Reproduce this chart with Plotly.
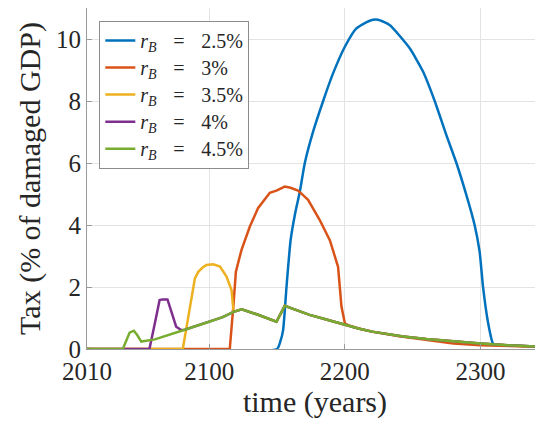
import plotly.graph_objects as go

# ---- data ----
green_years = [2010, 2036.4, 2041.4, 2044.5, 2047, 2050, 2060, 2070, 2082, 2100, 2110, 2118, 2124,
               2137, 2149.6, 2155.7, 2165, 2174, 2185, 2200, 2210, 2220, 2230, 2243, 2260, 2280,
               2300, 2320, 2346]
green_vals = [0, 0, 0.53, 0.59, 0.45, 0.24, 0.31, 0.46, 0.62, 0.88, 1.03, 1.2, 1.28,
              1.09, 0.88, 1.39, 1.24, 1.1, 0.97, 0.77, 0.66, 0.56, 0.48, 0.40, 0.32, 0.24,
              0.18, 0.12, 0.07]

purple_years = [2010, 2056, 2060, 2063.5, 2065.6, 2069.3, 2075.7, 2079.4, 2082]
purple_vals = [0, 0, 0.83, 1.58, 1.6, 1.6, 0.72, 0.61, 0.62]

yellow_years = [2010, 2080.6, 2089.5, 2092, 2095, 2098, 2103, 2108, 2112.8, 2116.5, 2118]
yellow_vals = [0, 0, 2.28, 2.49, 2.62, 2.71, 2.73, 2.66, 2.34, 1.9, 1.2]

orange_years = [2010, 2115.2, 2118, 2119.7, 2123.8, 2130, 2136, 2144.7, 2149.6, 2155.7, 2160,
                2165.5, 2169, 2172.9, 2181.5, 2189, 2195, 2197.5, 2200, 2203.6, 2210, 2220,
                2240, 2260, 2280, 2300, 2320, 2346]
orange_vals = [0, 0, 1.47, 2.49, 3.19, 3.95, 4.54, 5.04, 5.11, 5.24, 5.2,
               5.11, 4.97, 4.81, 4.16, 3.5, 2.65, 1.37, 0.83, 0.75, 0.66, 0.56,
               0.41, 0.29, 0.18, 0.12, 0.10, 0.07]

blue_years = [2010, 2150, 2152.5, 2154.5, 2157, 2160, 2163.5, 2166.8, 2170.5, 2176.6, 2184,
              2191.3, 2200, 2208.5, 2218.3, 2224.4, 2233, 2247.8, 2257.6, 2266.2, 2274.8,
              2282.2, 2289.5, 2295.6, 2299.3, 2301.8, 2305.4, 2309.1, 2310, 2320, 2346]
blue_vals = [0, 0, 0.25, 0.61, 2.0, 3.5, 4.4, 5.07, 6.0, 7.01, 8.0,
             8.89, 9.75, 10.34, 10.59, 10.62, 10.45, 9.7, 8.95, 8.0, 6.9,
             6.0, 4.97, 4.0, 3.14, 2.01, 0.88, 0.18, 0.15, 0.12, 0.07]

rates = ["2.5%", "3%", "3.5%", "4%", "4.5%"]
x_ticks = [2010, 2100, 2200, 2300]
y_ticks = [0, 2, 4, 6, 8, 10]

# purple and yellow continue along the green tail after merging
def tail_after(x0):
    return ([x for x in green_years if x > x0], [v for x, v in zip(green_years, green_vals) if x > x0])

py_t, pv_t = tail_after(purple_years[-1])
yy_t, yv_t = tail_after(yellow_years[-1])

xs_list = [blue_years, orange_years, yellow_years + yy_t, purple_years + py_t, green_years]
ys_list = [blue_vals, orange_vals, yellow_vals + yv_t, purple_vals + pv_t, green_vals]
colors = ["#0072BD", "#D95319", "#EDB120", "#7E2F8E", "#77AC30"]
shapes = ["spline", "linear", "linear", "linear", "linear"]

FONT = "Liberation Serif, Times New Roman, serif"
SP = "\u2002\u2004"
fig = go.Figure()
for rate, xs, ys, col, shp in zip(rates, xs_list, ys_list, colors, shapes):
    fig.add_trace(go.Scatter(
        x=xs, y=ys, mode="lines",
        name=f"<span style='font-size:20px'><i>r<sub>B</sub></i>{SP}={SP}{rate}</span>",
        line=dict(color=col, width=2.5, shape=shp, smoothing=0.5)))

axis_common = dict(showgrid=True, gridcolor="#e3e3e3", gridwidth=1,
                   showline=True, linecolor="#9a9a9a", linewidth=1,
                   ticks="inside", ticklen=5, tickcolor="#9a9a9a",
                   tickfont=dict(family=FONT, size=25, color="#262626"),
                   zeroline=False, automargin=False)

# the page body adds an 8px offset, so the figure is 8px smaller
fig.update_layout(
    template="none",
    width=535, height=413,
    margin=dict(l=79, r=0, t=0, b=72, pad=0),
    paper_bgcolor="white", plot_bgcolor="white",
    font=dict(family=FONT, color="#262626"),
    xaxis=dict(range=[2010, 2346], tickvals=x_ticks, mirror=True,
               title=dict(text="time (years)", font=dict(family=FONT, size=30, color="#262626"), standoff=0),
               **axis_common),
    yaxis=dict(range=[0, 11], tickvals=y_ticks,
               title=dict(text="Tax (% of damaged GDP)", font=dict(family=FONT, size=30, color="#262626"), standoff=6),
               **axis_common),
    legend=dict(x=0.027, y=0.962, xanchor="left", yanchor="top",
                bgcolor="white", bordercolor="#8c8c8c", borderwidth=1,
                font=dict(family=FONT, size=18.5, color="#262626"),
                tracegroupgap=0),
    showlegend=True,
)

fig.write_html("out.html")
